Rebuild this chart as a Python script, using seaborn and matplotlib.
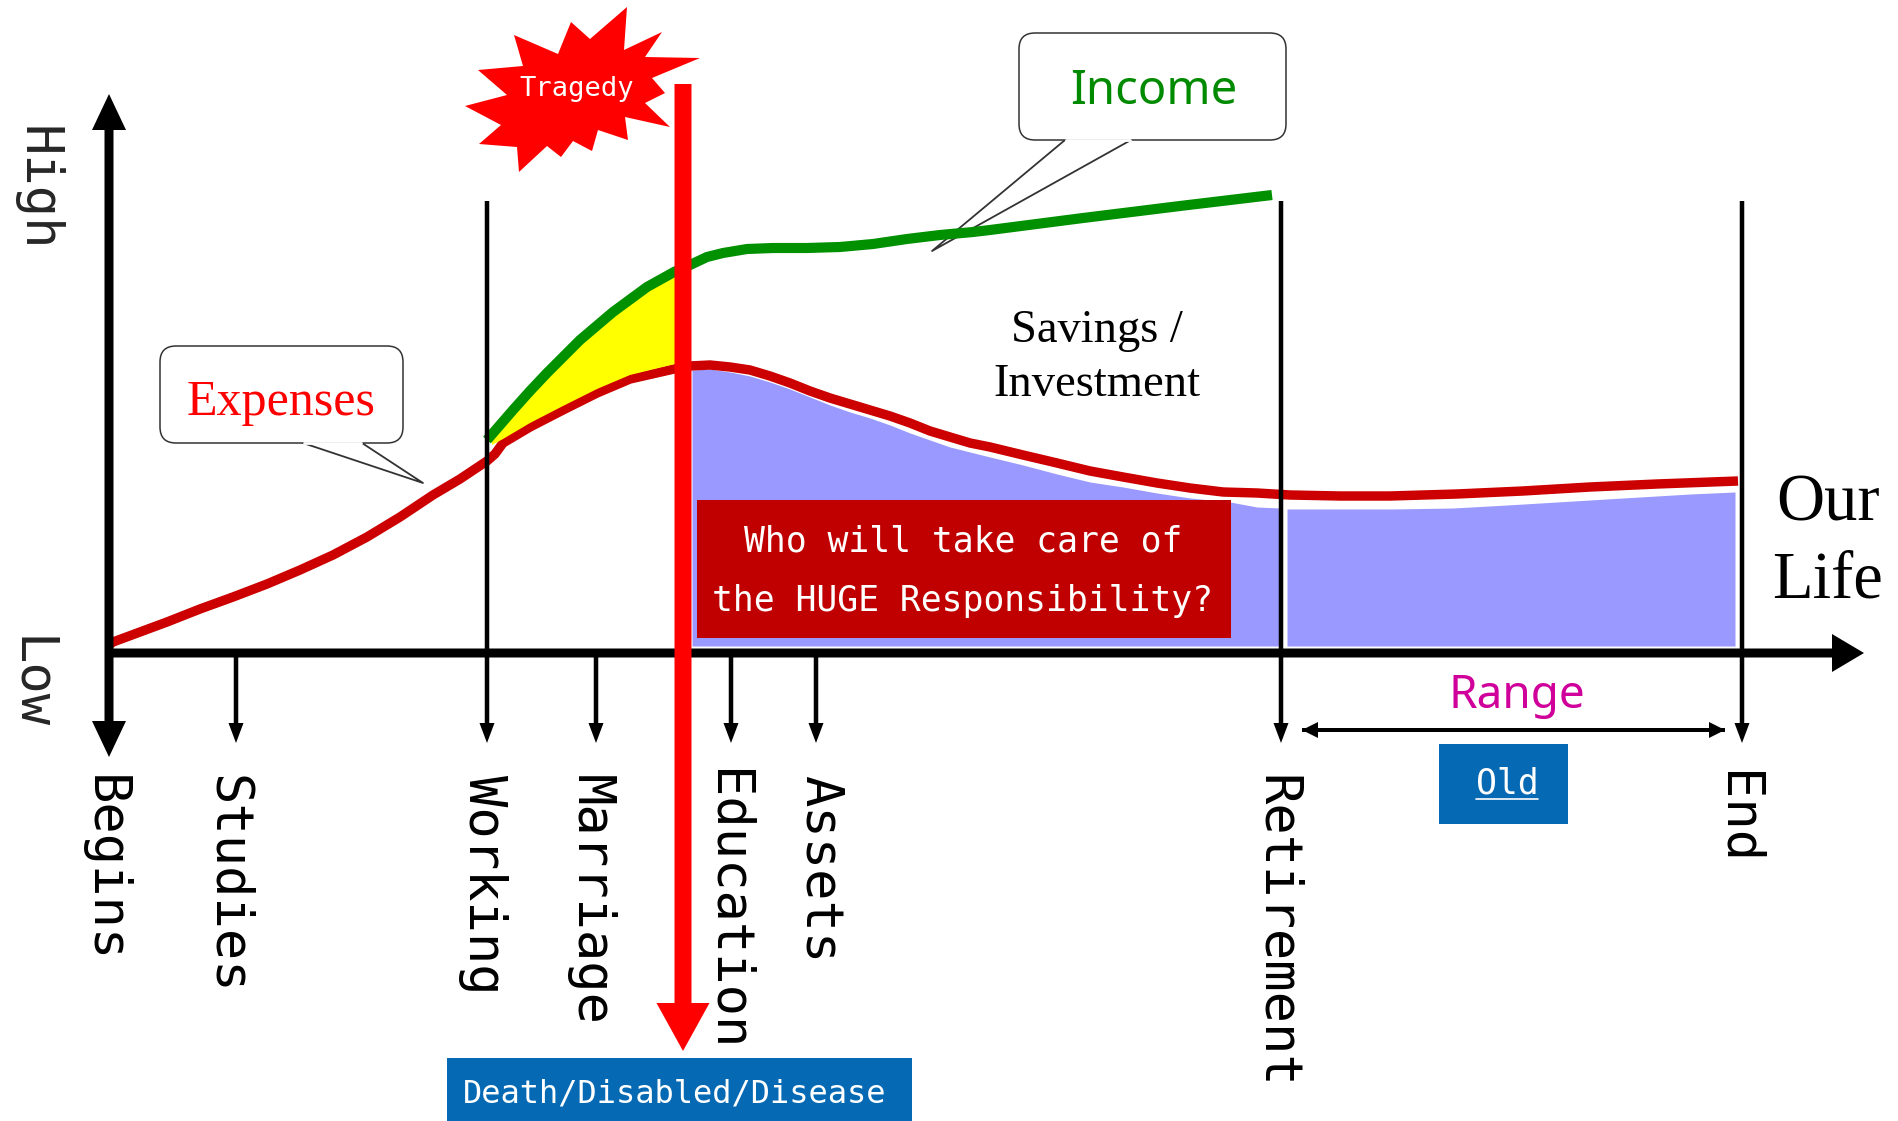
import matplotlib
matplotlib.use('Agg')
import matplotlib.pyplot as plt
import seaborn as sns
from matplotlib.patches import FancyBboxPatch, Polygon, Rectangle

# everything in its own pixel units (y runs downward)
income_x = [487, 513, 530, 547, 580, 613, 647, 674, 690, 707, 723, 747, 773, 807, 840, 873, 907, 940, 973,
            990, 1083, 1180, 1272]
income_y = [440, 410, 391, 373, 340, 312, 287, 272, 265, 257, 253, 249, 248, 248, 247, 244, 239, 235, 232,
            230, 218, 206, 195]

expenses_x = [109, 113, 167, 200, 233, 267, 300, 333, 367, 400, 433, 460, 487, 495, 503, 530, 563, 597, 630,
              674, 690, 710, 730, 750, 770, 790, 810, 830, 850, 870, 890, 910, 930, 950, 970, 990,
              1023, 1057, 1090, 1123, 1157, 1190, 1223, 1257, 1290, 1340, 1390, 1457, 1523, 1590, 1657, 1738]
expenses_y = [645, 642, 622, 609, 597, 584, 570, 555, 537, 517, 495, 479, 461, 454, 443, 427, 410, 393, 379,
              369, 366, 365, 367, 370, 376, 383, 391, 398, 404, 410, 416, 423, 431, 437, 443, 447,
              455, 463, 471, 477, 483, 488, 492, 493, 495, 496, 496, 494, 491, 487, 484, 481]

gap_x = [492, 503, 530, 563, 597, 630, 675]
gap_low = [445, 439, 423, 406, 389, 375, 364]
gap_high = [436, 422, 391, 358, 322, 297, 272]

cover_x = [692, 710, 730, 750, 770, 790, 810, 830, 850, 870, 890, 910, 930, 950, 970, 990,
           1023, 1057, 1090, 1123, 1157, 1190, 1230, 1257, 1280]
cover_y = [370, 369, 372, 376, 382, 389, 397, 405, 412, 418, 425, 433, 440, 447, 452, 457,
           465, 474, 482, 487, 493, 498, 502, 507, 508]
old_x = [1287, 1340, 1392, 1453, 1507, 1557, 1623, 1690, 1735]
old_y = [509, 509, 509, 508, 505, 502, 498, 494, 492]
cover_floor = 646

stages = ['Begins', 'Studies', 'Working', 'Marriage', 'Education', 'Assets', 'Retirement', 'End']
stage_text_x = [104, 227, 483, 590, 727, 820, 1276, 1737]
stage_text_y = [775, 775, 775, 775, 769, 775, 775, 771]

tick_x = [236, 487, 596, 731, 816, 1281, 1742]
tick_top = [653, 201, 653, 653, 653, 201, 201]
tick_tip = 743

burst_x = [627, 624, 662, 645, 700, 652, 665, 645, 670, 625, 628, 598, 592, 573, 561, 547, 519, 517,
           479, 501, 465, 507, 478, 523, 514, 558, 571, 590]
burst_y = [7, 50, 32, 57, 58, 78, 93, 103, 127, 117, 140, 130, 151, 141, 157, 146, 172, 147,
           144, 125, 106, 95, 70, 66, 35, 54, 22, 39]

RED = '#c00000'
GREEN = '#009000'
BLUE_BOX = '#0569b4'
MONO = 'DejaVu Sans Mono'
SERIF = 'Liberation Serif'

sns.set_style('white')
fig = plt.figure(figsize=(18.98, 11.21), dpi=100)
ax = fig.add_axes([0, 0, 1, 1])
ax.set_xlim(0, 1898)
ax.set_ylim(1121, 0)
ax.axis('off')


def arrow(x0, y0, x1, y1, width, head_w, head_l, color='black', z=5):
    ax.annotate('', xy=(x1, y1), xytext=(x0, y0), zorder=z,
                arrowprops=dict(facecolor=color, edgecolor='none', width=width * 0.72,
                                headwidth=head_w * 0.72, headlength=head_l * 0.72, shrink=0))


def callout(x0, y0, x1, y1, base0, base1, tip):
    ax.add_patch(FancyBboxPatch((x0 + 14, y0 + 14), x1 - x0 - 28, y1 - y0 - 28,
                                boxstyle='round,pad=14,rounding_size=16', fc='white', ec='#333333',
                                lw=1.1, zorder=3))
    ax.add_patch(Polygon([(base0, y1), tip, (base1, y1)], closed=False, fc='white', ec='none', zorder=1.4))
    ax.plot([base0, tip[0], base1], [y1, tip[1], y1], color='#333333', lw=1.3, zorder=1.5)
    ax.plot([base0 + 1, base1 - 1], [y1, y1], color='white', lw=2, zorder=3.2)


# filled regions
ax.fill_between(cover_x, cover_y, cover_floor, color='#9999ff', lw=0, zorder=1)
ax.fill_between(old_x, old_y, cover_floor, color='#9999ff', lw=0, zorder=1)
ax.fill(gap_x + gap_x[::-1], gap_low + gap_high[::-1], color='#ffff00', lw=0, zorder=2.2)

callout(1019, 33, 1286, 140, 1065, 1131, (932, 251))
callout(160, 346, 403, 443, 303, 362, (423, 483))

# curves
sns.lineplot(x=expenses_x, y=expenses_y, color='#cc0000', linewidth=6.8, sort=False, estimator=None, ax=ax, zorder=2,
             solid_capstyle='butt')
sns.lineplot(x=income_x, y=income_y, color=GREEN, linewidth=7.3, sort=False, estimator=None, ax=ax, zorder=2.5,
             solid_capstyle='butt')

# axes
arrow(109, 653, 109, 94, 9, 34, 36)
arrow(109, 653, 109, 757, 9, 34, 36)
arrow(109, 653, 1864, 653, 9, 38, 32)

for x, top in zip(tick_x, tick_top):
    arrow(x, top, x, tick_tip, 4.5, 15, 20)

arrow(1302, 730, 1725, 730, 4, 16, 16)
arrow(1725, 730, 1302, 730, 4, 16, 16)

# boxes
ax.add_patch(Rectangle((697, 500), 534, 138, color=RED, lw=0, zorder=4))
ax.add_patch(Rectangle((447, 1058), 465, 63, color=BLUE_BOX, lw=0, zorder=4))
ax.add_patch(Rectangle((1439, 744), 129, 80, color=BLUE_BOX, lw=0, zorder=4))

ax.fill(burst_x, burst_y, color='#ff0000', lw=0, zorder=4)
arrow(683, 84, 683, 1051, 17, 53, 48, color='#ff0000', z=6)

# text
for name, x, y in zip(stages, stage_text_x, stage_text_y):
    ax.text(x, y, name, rotation=270, ha='center', va='top', family=MONO, fontsize=37.5, color='black', zorder=7)
ax.text(36, 126, 'High', rotation=270, ha='center', va='top', family=MONO, fontsize=37.5)
ax.text(30, 636, 'Low', rotation=270, ha='center', va='top', family=MONO, fontsize=37.5)

ax.text(577, 89, 'Tragedy', ha='center', va='center', family=MONO, fontsize=19.5, color='white', zorder=7)
ax.text(963, 541, 'Who will take care of', ha='center', va='center', family=MONO, fontsize=25, color='white', zorder=7)
ax.text(963, 601, 'the HUGE Responsibility?', ha='center', va='center', family=MONO, fontsize=25, color='white', zorder=7)
ax.text(675, 1094, 'Death/Disabled/Disease', ha='center', va='center', family=MONO, fontsize=23, color='white', zorder=7)
ax.text(1507, 784, 'Old', ha='center', va='center', family=MONO, fontsize=25, color='white', zorder=7)
ax.plot([1476, 1538], [799, 799], color='white', lw=1.2, zorder=7)

ax.text(1154, 91, 'Income', ha='center', va='center', family='Noto Sans', fontsize=34, color='#008a00', zorder=7)
ax.text(1517, 696, 'Range', ha='center', va='center', family='Noto Sans', fontsize=33, color='#d0009a', zorder=7)
ax.text(281, 403, 'Expenses', ha='center', va='center', family=SERIF, fontsize=36, color='#ff0000', zorder=7)
ax.text(1097, 331, 'Savings /', ha='center', va='center', family=SERIF, fontsize=33.5, color='black', zorder=7)
ax.text(1097, 385, 'Investment', ha='center', va='center', family=SERIF, fontsize=33.5, color='black', zorder=7)
ax.text(1828, 504, 'Our', ha='center', va='center', family=SERIF, fontsize=48, color='black', zorder=7)
ax.text(1828, 581, 'Life', ha='center', va='center', family=SERIF, fontsize=48, color='black', zorder=7)

fig.savefig('out.png', dpi=100)
